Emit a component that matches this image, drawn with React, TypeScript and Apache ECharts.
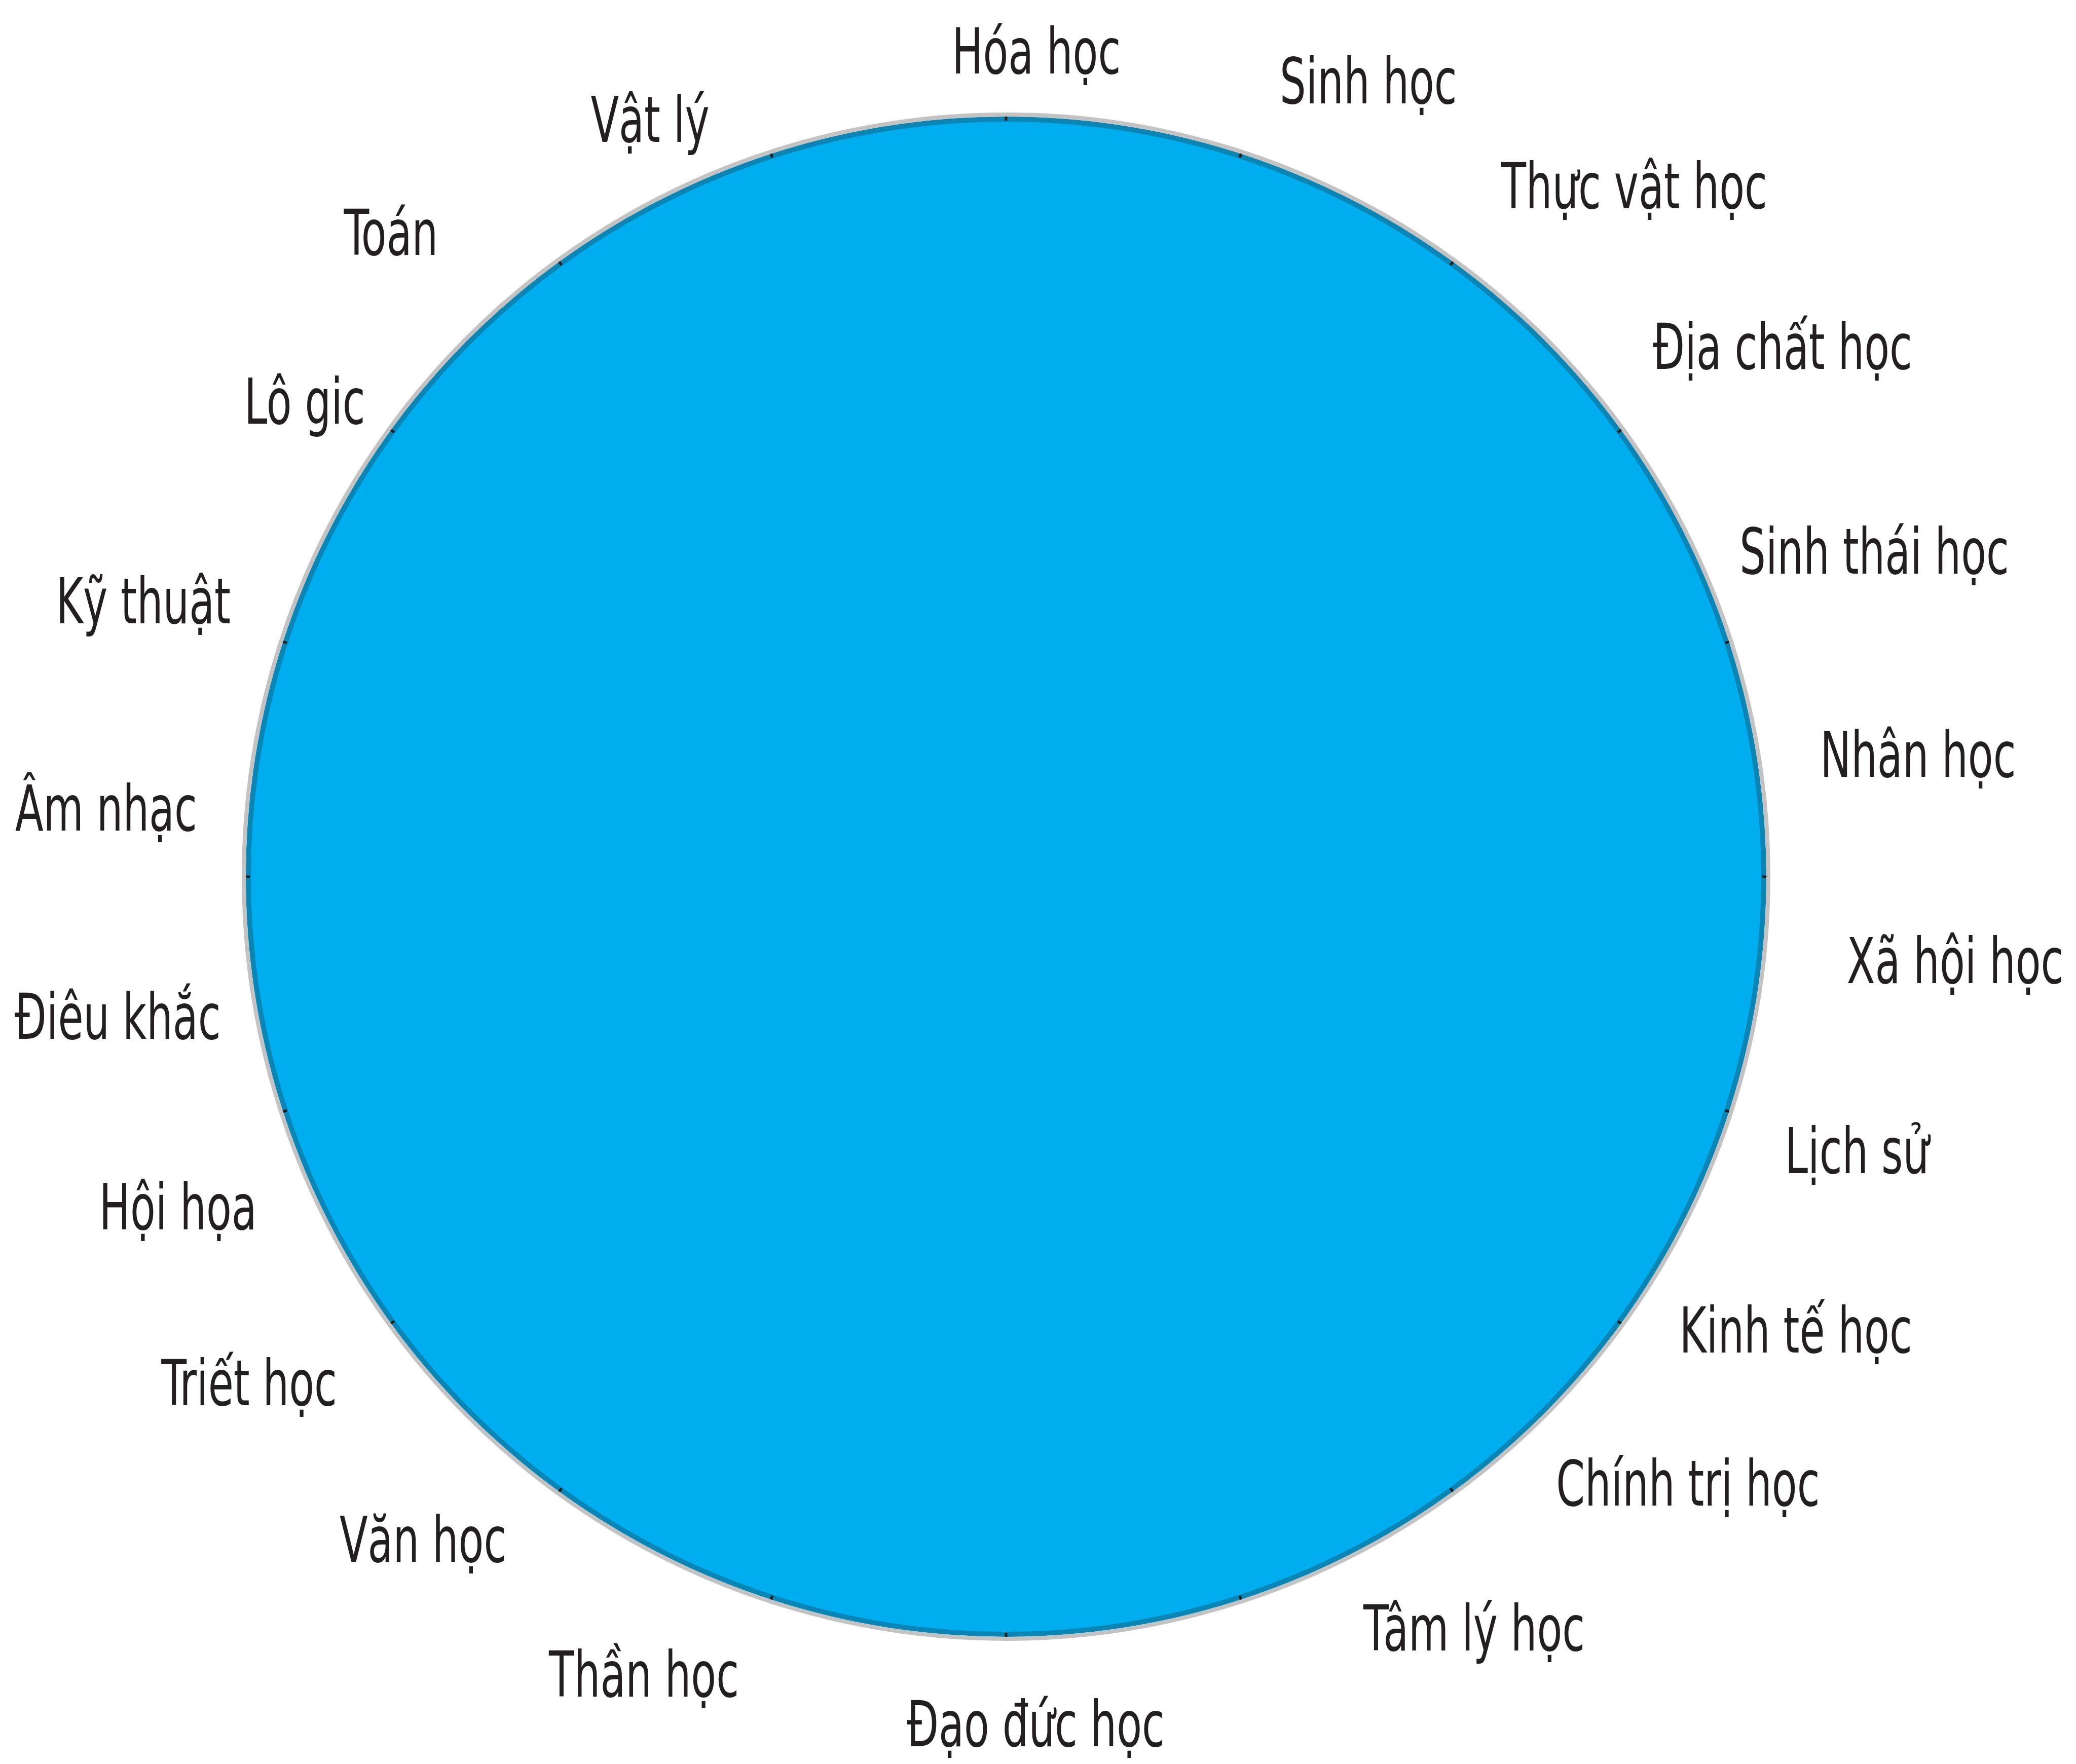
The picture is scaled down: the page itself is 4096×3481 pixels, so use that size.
import React, { useEffect, useRef } from "react";
import * as echarts from "echarts";

// Subject labels, clockwise from the top
const subjects = [
  "Hóa học", "Sinh học", "Thực vật học", "Địa chất học", "Sinh thái học", "Nhân học",
  "Xã hội học", "Lịch sử", "Kinh tế học", "Chính trị học", "Tâm lý học", "Đạo đức học",
  "Thần học", "Văn học", "Triết học", "Hội họa", "Điêu khắc", "Âm nhạc",
  "Kỹ thuật", "Lô gic", "Toán", "Vật lý",
];
// Angle (degrees clockwise from top) of each label around the circle
const labelAngles = [
  2.1, 24.5, 42.3, 55.7, 69.5, 82.4, 95.1, 107.9, 119.9, 131.7, 148.1,
  178.0, 204.4, 221.3, 236.2, 248.2, 261.0, 274.3, 287.7, 304.1, 316.3, 334.8,
];
// Distance of each label from the centre, relative to the circle radius (=1)
const labelRadii = [
  1.083, 1.146, 1.224, 1.233, 1.216, 1.207, 1.250, 1.173, 1.195, 1.198, 1.162,
  1.113, 1.150, 1.159, 1.195, 1.170, 1.180, 1.184, 1.188, 1.111, 1.168, 1.097,
];
// The disc itself (one full slice)
const discValue = [1];
// Tick marks on the rim every 18 degrees
const tickInterval = 18;

const FONT = "'Liberation Sans Narrow', 'DejaVu Sans Condensed', 'Noto Sans', sans-serif";

export default function App() {
  const ref = useRef<HTMLDivElement>(null);
  useEffect(() => {
    if (!ref.current) return;
    const chart = echarts.init(ref.current, null, { renderer: "svg" });
    const center = [1985, 1730];
    const R = 1504;
    const option: any = {
      animation: false,
      backgroundColor: "#ffffff",
      polar: { center, radius: R },
      angleAxis: {
        type: "value",
        min: 0,
        max: 360,
        interval: tickInterval,
        startAngle: 90,
        clockwise: true,
        z: 5,
        axisLine: { show: true, lineStyle: { color: "#C3C3C3", width: 8 } },
        axisTick: { show: true, inside: true, length: 12, lineStyle: { color: "#231F20", width: 5 } },
        axisLabel: { show: false },
        splitLine: { show: false },
      },
      radiusAxis: {
        type: "value",
        min: 0,
        max: 1,
        axisLine: { show: false },
        axisTick: { show: false },
        axisLabel: { show: false },
        splitLine: { show: false },
      },
      series: [
        {
          type: "pie",
          center,
          radius: [0, R - 9],
          silent: true,
          z: 1,
          label: { show: false },
          labelLine: { show: false },
          emphasis: { disabled: true },
          itemStyle: { color: "#00AEEF", borderColor: "#0B85B4", borderWidth: 10 },
          data: discValue.map((v) => ({ value: v, name: "" })),
        },
        {
          type: "custom",
          coordinateSystem: "polar",
          silent: true,
          z: 10,
          data: subjects.map((s, i) => [labelRadii[i], labelAngles[i]]),
          renderItem: (params: any, api: any) => {
            const pt = api.coord([api.value(0), api.value(1)]);
            return {
              type: "text",
              x: pt[0],
              y: pt[1],
              scaleX: 0.73,
              style: {
                text: subjects[params.dataIndex],
                fontSize: 124,
                fontFamily: FONT,
                fill: "#231F20",
                align: "center",
                verticalAlign: "middle",
              },
            };
          },
        },
      ],
    };
    chart.setOption(option);
    return () => chart.dispose();
  }, []);
  return (
    <div
      ref={ref}
      style={{ position: "fixed", left: 0, top: 0, width: 4096, height: 3481, background: "#fff" }}
    />
  );
}
